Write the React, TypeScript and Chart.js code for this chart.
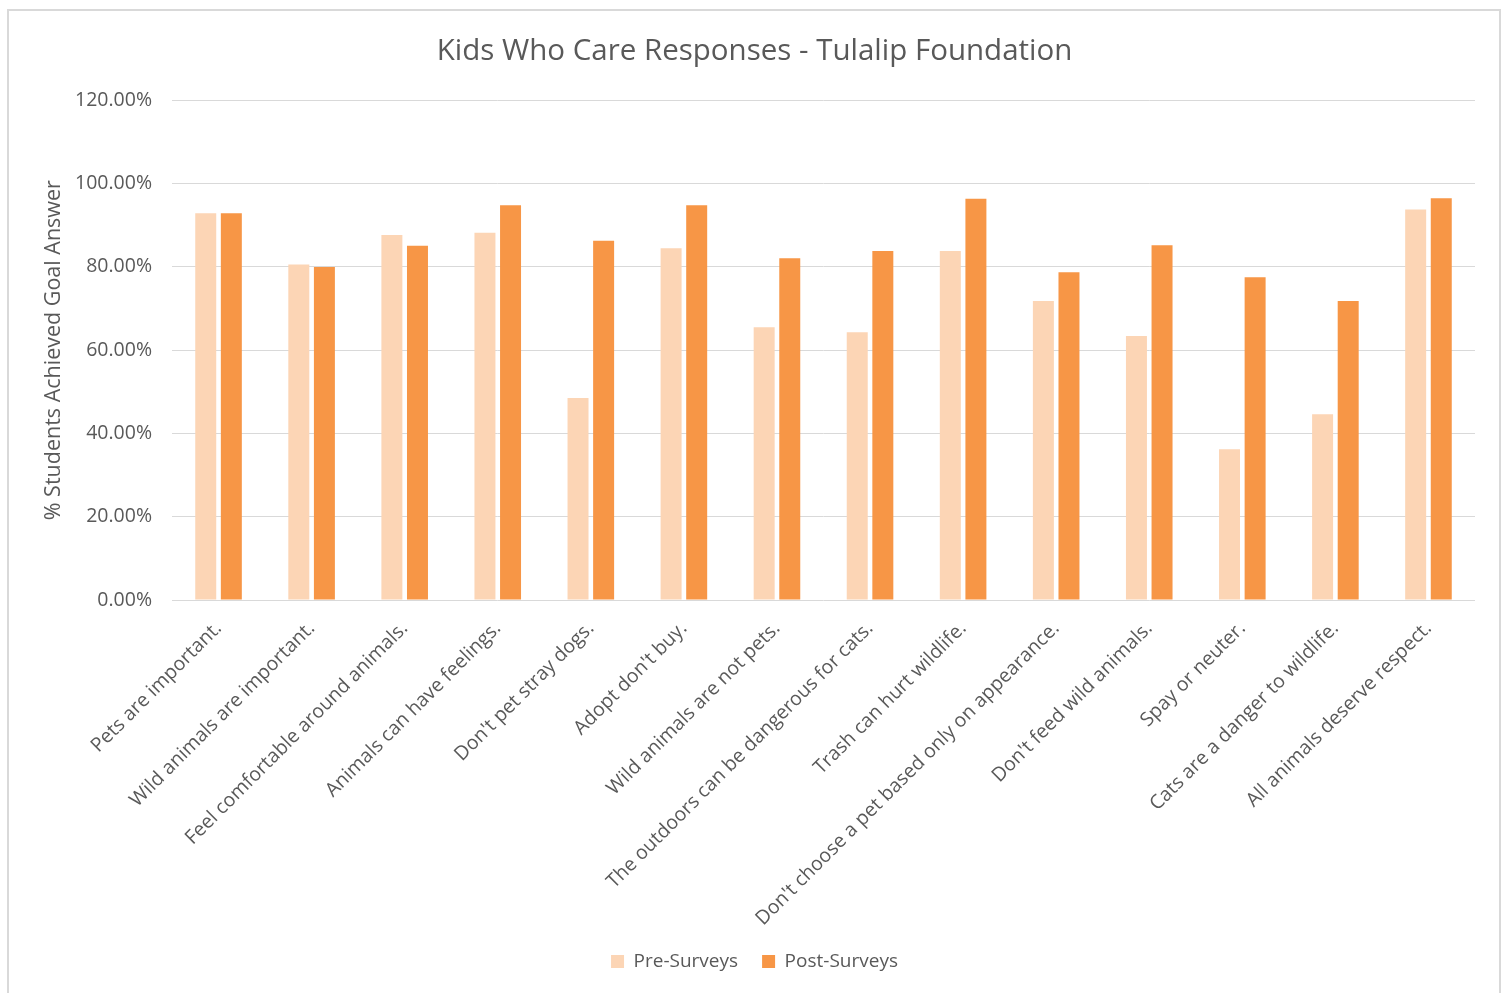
import React, { useEffect, useRef } from "react";
import { Chart, registerables } from "chart.js";

Chart.register(...registerables);

const categories = [
  "Pets are important.",
  "Wild animals are important.",
  "Feel comfortable around animals.",
  "Animals can have feelings.",
  "Don't pet stray dogs.",
  "Adopt don't buy.",
  "Wild animals are not pets.",
  "The outdoors can be dangerous for cats.",
  "Trash can hurt wildlife.",
  "Don't choose a pet based only on appearance.",
  "Don't feed wild animals.",
  "Spay or neuter.",
  "Cats are a danger to wildlife.",
  "All animals deserve respect.",
];

const preSurveys = [92.9, 80.6, 87.7, 88.2, 48.5, 84.5, 65.5, 64.3, 83.8, 71.8, 63.4, 36.2, 44.6, 93.8];
const postSurveys = [92.9, 80.0, 85.1, 94.8, 86.3, 94.8, 82.1, 83.8, 96.4, 78.7, 85.2, 77.5, 71.8, 96.5];

const yTicks = [0, 20, 40, 60, 80, 100, 120];

const FONT = "'Open Sans', 'DejaVu Sans', sans-serif";
const TEXT = "#595959";

export default function App() {
  const ref = useRef<HTMLCanvasElement | null>(null);

  useEffect(() => {
    if (!ref.current) return;
    const chart = new Chart(ref.current, {
      type: "bar",
      data: {
        labels: categories,
        datasets: [
          {
            label: "Pre-Surveys",
            data: preSurveys,
            backgroundColor: "#FCD5B5",
            categoryPercentage: 0.55,
            barPercentage: 0.82,
            yAxisID: "y",
          },
          {
            label: "Post-Surveys",
            data: postSurveys,
            backgroundColor: "#F79646",
            categoryPercentage: 0.55,
            barPercentage: 0.82,
            yAxisID: "y",
          },
        ],
      },
      options: {
        animation: false,
        responsive: false,
        maintainAspectRatio: false,
        layout: { padding: { left: 0, right: 0, top: 0, bottom: 12 } },
        plugins: {
          title: {
            display: true,
            text: "Kids Who Care Responses - Tulalip Foundation",
            color: TEXT,
            font: { family: FONT, size: 29.5, weight: "normal" },
            padding: { top: 34, bottom: 31 },
          },
          legend: {
            position: "bottom",
            labels: {
              color: TEXT,
              font: { family: FONT, size: 19 },
              boxWidth: 13,
              boxHeight: 13,
              padding: 24,
            },
          },
          tooltip: { enabled: false },
        },
        scales: {
          x: {
            grid: { display: false },
            border: { display: false },
            ticks: {
              color: TEXT,
              font: { family: FONT, size: 19.5 },
              maxRotation: 45,
              minRotation: 45,
              autoSkip: false,
              padding: 9,
            },
            afterFit: (scale: any) => {
              scale.height = 328;
            },
          },
          y: {
            min: 0,
            max: 120,
            afterBuildTicks: (scale: any) => {
              scale.ticks = yTicks.map((v) => ({ value: v }));
            },
            grid: { color: "#D9D9D9", drawTicks: false, lineWidth: 1 },
            border: { display: false },
            ticks: {
              color: TEXT,
              font: { family: FONT, size: 19.5 },
              padding: 20,
              callback: (v: any) => Number(v).toFixed(2) + "%",
            },
            title: {
              display: true,
              text: "% Students Achieved Goal Answer",
              color: TEXT,
              font: { family: FONT, size: 21.5 },
              padding: { top: 41, bottom: 0 },
            },
            afterFit: (scale: any) => {
              scale.width = 172;
            },
          },
          spacer: {
            type: "linear",
            position: "right",
            display: true,
            grid: { display: false },
            border: { display: false },
            ticks: { display: false },
            afterFit: (scale: any) => {
              scale.width = 34;
            },
          },
        },
      },
    });
    return () => chart.destroy();
  }, []);

  return (
    <div style={{ position: "absolute", left: 0, top: 0, width: 1509, height: 993, background: "#fff" }}>
      <div
        style={{
          position: "absolute",
          left: 7,
          top: 9,
          width: 1494,
          height: 990,
          border: "2px solid #D9D9D9",
          boxSizing: "border-box",
        }}
      />
      <canvas ref={ref} width={1509} height={993} style={{ position: "absolute", left: 0, top: 0 }} />
    </div>
  );
}
